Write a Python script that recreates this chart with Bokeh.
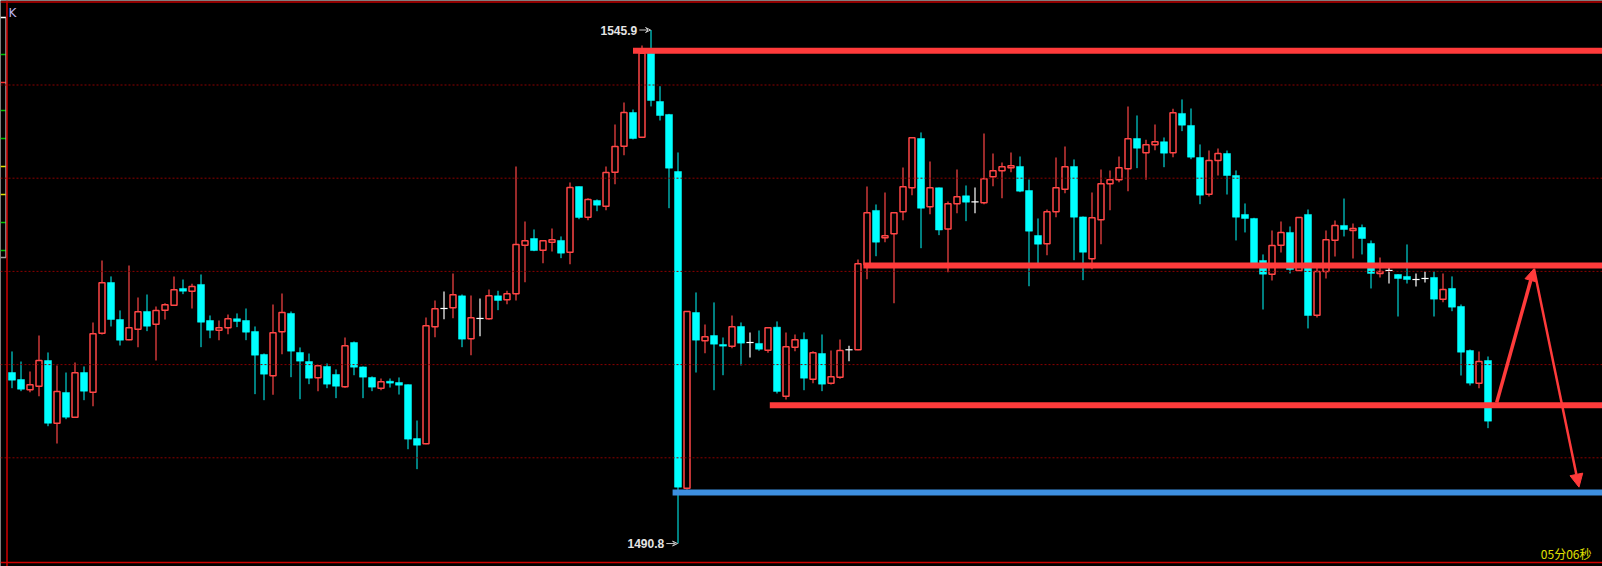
from bokeh.plotting import figure
from bokeh.models import ColumnDataSource, Arrow, VeeHead, NormalHead, Label, Range1d, Span
from bokeh.embed import file_html
from bokeh.resources import INLINE

opens = [
    1509.15, 1508.40, 1507.30, 1507.68, 1510.44, 1503.71, 1507.01, 1504.36, 1509.15, 1507.04,
    1513.37, 1518.81, 1514.84, 1512.66, 1513.80, 1515.70, 1514.34, 1515.84, 1516.38, 1518.17,
    1517.88, 1518.60, 1514.73, 1513.69, 1513.95, 1514.92, 1514.73, 1513.55, 1511.09, 1508.80,
    1513.52, 1515.49, 1511.30, 1510.33, 1508.59, 1509.80, 1508.94, 1507.62, 1512.37, 1509.75,
    1508.62, 1507.47, 1508.22, 1508.08, 1507.85, 1502.07, 1501.50, 1514.06, 1516.02, 1516.10,
    1517.38, 1512.77, 1514.95, 1514.92, 1517.38, 1516.96, 1517.60, 1522.81, 1523.53, 1522.28,
    1523.14, 1523.32, 1522.06, 1529.10, 1525.82, 1527.61, 1527.00, 1530.65, 1533.44, 1537.05,
    1534.40, 1543.42, 1538.23, 1536.84, 1530.72, 1496.74, 1515.59, 1512.56, 1513.12, 1512.16,
    1511.98, 1514.09, 1512.37, 1512.27, 1511.55, 1514.02, 1506.61, 1511.87, 1512.70, 1508.44,
    1511.19, 1508.01, 1508.65, 1511.59, 1511.59, 1520.71, 1526.54, 1523.61, 1524.04, 1526.40,
    1528.97, 1534.26, 1526.93, 1528.97, 1524.55, 1527.26, 1528.11, 1527.47, 1527.36, 1530.15,
    1530.80, 1531.12, 1531.26, 1528.68, 1523.85, 1522.96, 1526.40, 1528.82, 1531.26, 1525.85,
    1521.35, 1525.54, 1529.40, 1529.83, 1531.01, 1534.26, 1532.73, 1533.59, 1533.91, 1532.73,
    1536.95, 1535.66, 1532.22, 1528.29, 1531.90, 1532.65, 1530.29, 1526.11, 1525.68, 1521.17,
    1519.70, 1522.81, 1524.18, 1520.10, 1526.11, 1515.30, 1519.99, 1523.35, 1524.93, 1524.39,
    1524.71, 1523.00, 1519.78, 1520.10, 1519.67, 1519.46, 1519.13, 1519.24, 1519.35, 1517.02,
    1518.17, 1516.24, 1511.51, 1508.01, 1510.44,
]
highs = [
    1511.41, 1510.33, 1509.26, 1513.12, 1511.30, 1509.91, 1509.15, 1510.23, 1509.80, 1514.52,
    1521.17, 1519.46, 1515.81, 1520.64, 1517.20, 1517.52, 1516.24, 1516.59, 1519.46, 1519.13,
    1518.67, 1519.67, 1515.27, 1514.73, 1515.38, 1515.49, 1516.02, 1514.09, 1511.19, 1516.45,
    1517.63, 1515.70, 1511.84, 1511.19, 1509.91, 1510.12, 1509.48, 1512.91, 1512.48, 1509.80,
    1508.73, 1508.51, 1508.51, 1508.62, 1507.87, 1504.00, 1515.06, 1516.88, 1517.85, 1519.78,
    1517.52, 1517.42, 1517.09, 1518.06, 1517.92, 1517.92, 1531.26, 1525.36, 1524.50, 1523.29,
    1524.61, 1523.75, 1529.54, 1529.11, 1527.86, 1527.72, 1531.26, 1535.76, 1538.13, 1537.37,
    1544.24, 1545.90, 1539.87, 1536.90, 1532.76, 1515.70, 1517.74, 1514.30, 1516.67, 1512.91,
    1515.27, 1514.52, 1513.45, 1513.66, 1513.95, 1514.63, 1513.45, 1513.23, 1513.45, 1511.44,
    1513.23, 1511.51, 1512.70, 1512.02, 1521.28, 1529.11, 1527.18, 1528.47, 1526.29, 1531.15,
    1534.34, 1534.91, 1531.79, 1529.00, 1527.50, 1530.94, 1529.22, 1529.00, 1534.80, 1532.65,
    1531.69, 1532.76, 1532.33, 1529.86, 1525.68, 1526.64, 1532.22, 1533.40, 1532.01, 1525.89,
    1528.47, 1530.94, 1530.83, 1532.33, 1537.70, 1536.73, 1534.12, 1535.76, 1534.37, 1537.45,
    1538.45, 1537.48, 1533.62, 1532.97, 1533.19, 1532.97, 1530.83, 1527.29, 1525.75, 1521.82,
    1524.39, 1525.36, 1524.82, 1525.79, 1526.64, 1520.74, 1524.39, 1525.46, 1527.82, 1525.14,
    1525.03, 1523.32, 1521.49, 1520.45, 1519.70, 1522.89, 1519.78, 1519.99, 1519.99, 1519.78,
    1519.46, 1516.45, 1511.62, 1511.41, 1510.87,
]
lows = [
    1507.47, 1507.15, 1507.04, 1506.61, 1503.39, 1501.54, 1504.14, 1504.30, 1506.18, 1505.54,
    1513.23, 1514.09, 1512.05, 1512.62, 1511.87, 1513.59, 1510.44, 1514.84, 1516.34, 1517.56,
    1516.02, 1511.87, 1512.83, 1512.62, 1513.26, 1514.02, 1512.62, 1506.83, 1506.18, 1506.76,
    1511.12, 1508.65, 1506.29, 1507.90, 1507.15, 1507.47, 1506.40, 1507.51, 1508.86, 1506.40,
    1507.15, 1507.25, 1507.54, 1506.79, 1500.92, 1498.78, 1501.45, 1512.94, 1514.87, 1514.98,
    1511.87, 1511.01, 1513.05, 1514.81, 1515.84, 1516.48, 1516.88, 1518.84, 1522.17, 1520.88,
    1522.14, 1521.42, 1520.77, 1525.60, 1525.50, 1526.46, 1526.57, 1529.36, 1532.47, 1534.16,
    1534.35, 1537.70, 1536.19, 1526.78, 1490.80, 1496.57, 1509.15, 1511.23, 1507.25, 1508.86,
    1511.76, 1509.91, 1510.76, 1511.48, 1511.27, 1506.90, 1506.26, 1511.44, 1507.25, 1508.01,
    1507.15, 1507.87, 1508.48, 1510.37, 1511.55, 1519.17, 1521.63, 1523.14, 1516.59, 1525.50,
    1528.18, 1522.49, 1526.14, 1523.89, 1519.92, 1526.25, 1525.39, 1526.25, 1527.21, 1529.14,
    1527.86, 1530.65, 1528.50, 1518.41, 1520.82, 1521.74, 1525.82, 1528.39, 1521.20, 1519.06,
    1520.24, 1522.92, 1526.57, 1529.57, 1528.61, 1531.08, 1529.83, 1533.01, 1531.18, 1532.26,
    1535.05, 1532.04, 1527.21, 1528.04, 1530.29, 1528.25, 1523.32, 1524.18, 1520.85, 1515.91,
    1519.03, 1522.03, 1519.78, 1520.05, 1513.88, 1515.06, 1519.24, 1521.60, 1523.75, 1521.39,
    1521.82, 1518.17, 1519.35, 1518.70, 1515.16, 1518.70, 1518.38, 1518.81, 1515.16, 1516.70,
    1515.73, 1508.83, 1507.76, 1507.47, 1503.18,
]
closes = [
    1508.33, 1507.36, 1507.83, 1510.44, 1503.71, 1507.12, 1504.36, 1509.12, 1507.15, 1513.31,
    1518.78, 1514.84, 1512.62, 1513.95, 1515.67, 1514.12, 1515.81, 1516.42, 1518.03, 1517.88,
    1518.38, 1514.55, 1513.69, 1513.95, 1514.92, 1514.63, 1513.48, 1511.01, 1508.97, 1513.41,
    1515.59, 1511.44, 1510.37, 1508.54, 1509.87, 1507.90, 1507.68, 1512.02, 1509.72, 1508.65,
    1507.58, 1508.16, 1508.01, 1507.79, 1502.00, 1501.35, 1514.17, 1515.99, 1516.02, 1517.49,
    1512.73, 1515.02, 1514.95, 1517.38, 1516.88, 1517.60, 1522.89, 1523.29, 1522.24, 1523.29,
    1523.39, 1521.96, 1529.00, 1525.79, 1527.72, 1527.11, 1530.61, 1533.40, 1537.05, 1534.26,
    1543.42, 1538.34, 1536.73, 1531.08, 1496.85, 1515.70, 1512.62, 1512.98, 1512.19, 1511.98,
    1514.06, 1512.30, 1512.37, 1511.65, 1513.95, 1507.12, 1511.91, 1512.66, 1508.54, 1511.27,
    1507.90, 1508.69, 1511.51, 1511.59, 1520.82, 1526.29, 1523.14, 1523.82, 1526.29, 1529.08,
    1534.34, 1526.78, 1528.97, 1524.44, 1527.26, 1528.01, 1527.43, 1527.47, 1529.94, 1530.80,
    1531.23, 1531.33, 1528.61, 1524.32, 1522.92, 1526.40, 1528.97, 1531.23, 1525.82, 1522.06,
    1525.75, 1529.40, 1529.83, 1531.12, 1534.23, 1533.22, 1533.59, 1533.91, 1532.69, 1537.02,
    1535.69, 1532.26, 1528.18, 1531.90, 1532.65, 1530.29, 1525.82, 1525.68, 1520.70, 1519.70,
    1522.78, 1524.18, 1520.21, 1525.79, 1515.27, 1519.99, 1523.39, 1524.93, 1524.50, 1524.61,
    1523.53, 1519.78, 1519.99, 1520.10, 1519.24, 1519.13, 1519.13, 1519.24, 1517.02, 1518.06,
    1516.16, 1511.33, 1508.01, 1510.33, 1503.93,
]

# annotation levels (price) and the bar index where each starts
red_levels = [1543.67, 1520.63, 1505.63]
red_level_starts = [69.0, 94.6, 84.2]
blue_level = [1496.28]
blue_level_starts = [73.4]
# forecast arrow path (bar index, price)
path_x = [164.97, 169.11, 174.11]
path_y = [1505.94, 1520.28, 1496.85]
grid_levels = [1500, 1510, 1520, 1530, 1540]
high_idx, high_text = 71, "1545.9"
low_idx, low_text = 74, "1490.8"
timer_text = "05分06秒"
chart_label = "K"
# small colour marks of the left indicator strip
strip_marks = [1547.24, 1543.27, 1540.27, 1537.26, 1534.26, 1531.26, 1528.25, 1525.25, 1522.25]
strip_colors = ["#ffffff", "#00c000", "#ff3030", "#00c000", "#00c000",
                "#e0e000", "#e0e000", "#00c000", "#00c000"]

RED = "#ff3b3b"
CANDLE_RED = "#ff4646"
CYAN = "#00ffff"
W, H = 1602, 566
BAR_PX = 9.0
PX_PER_UNIT = 9.32
X0_PX = 11.5            # centre of the first bar
Y_REF_PX, Y_REF = 84.5, 1540.0

x_lo = -X0_PX / BAR_PX
x_hi = (W - X0_PX) / BAR_PX
y_hi = Y_REF + Y_REF_PX / PX_PER_UNIT
y_lo = Y_REF - (H - Y_REF_PX) / PX_PER_UNIT

n = len(opens)
idx = list(range(n))

p = figure(width=W, height=H, output_backend="svg", toolbar_location=None,
           x_range=Range1d(x_lo, x_hi), y_range=Range1d(y_lo, y_hi),
           x_axis_location=None, y_axis_location=None,
           background_fill_color="#000000", border_fill_color="#000000",
           outline_line_color=None, min_border=0, min_border_left=0,
           min_border_right=0, min_border_top=0, min_border_bottom=0)
p.xgrid.visible = False
p.ygrid.visible = False

for g in grid_levels:
    p.add_layout(Span(location=g, dimension="width", line_color="#8a0000",
                      line_dash="2 2", line_width=1))

# frame of the chart window
p.add_layout(Span(location=x_lo + 6.5 / BAR_PX, dimension="height", line_color="#d00000", line_width=1.5))
p.add_layout(Span(location=y_hi - 1.5 / PX_PER_UNIT, dimension="width", line_color="#c00000", line_width=1.5))
p.add_layout(Span(location=y_lo + 4.0 / PX_PER_UNIT, dimension="width", line_color="#d00000", line_width=1.5))

# left indicator strip
sx_l, sx_r = x_lo, x_lo + 5.5 / BAR_PX
p.segment(x0=[sx_l] * len(strip_marks), y0=strip_marks, x1=[sx_r] * len(strip_marks), y1=strip_marks,
          line_color=strip_colors, line_width=1.5)
p.segment(x0=[sx_r, sx_l], y0=[strip_marks[0], strip_marks[-1] - 0.75],
          x1=[sx_r, sx_r], y1=[strip_marks[-1] - 0.75, strip_marks[-1] - 0.75],
          line_color="#a0a0a0", line_width=1.5)

up = [i for i in idx if closes[i] > opens[i]]
dn = [i for i in idx if closes[i] < opens[i]]
dj = [i for i in idx if closes[i] == opens[i]]

def col(ids, arr):
    return [arr[i] for i in ids]

up_src = ColumnDataSource(dict(x=up, o=col(up, opens), h=col(up, highs), l=col(up, lows), c=col(up, closes)))
dn_src = ColumnDataSource(dict(x=dn, o=col(dn, opens), h=col(dn, highs), l=col(dn, lows), c=col(dn, closes)))
dj_src = ColumnDataSource(dict(x=dj, xl=[i - 0.4 for i in dj], xr=[i + 0.4 for i in dj],
                               o=col(dj, opens), h=col(dj, highs), l=col(dj, lows), c=col(dj, closes)))

p.segment(x0="x", y0="l", x1="x", y1="h", source=up_src, line_color=CANDLE_RED, line_width=1.2)
p.segment(x0="x", y0="l", x1="x", y1="h", source=dn_src, line_color=CYAN, line_width=1)
p.segment(x0="x", y0="l", x1="x", y1="h", source=dj_src, line_color="#ffffff", line_width=1.2)
p.segment(x0="xl", y0="c", x1="xr", y1="c", source=dj_src, line_color="#ffffff", line_width=1.2)

p.vbar(x="x", width=6.0 / BAR_PX, top="c", bottom="o", source=up_src,
       fill_color="#000000", line_color=CANDLE_RED, line_width=1.5)
p.vbar(x="x", width=7.0 / BAR_PX, top="o", bottom="c", source=dn_src,
       fill_color=CYAN, line_color=CYAN, line_width=0.5)

# horizontal levels
p.segment(x0=red_level_starts, y0=red_levels, x1=[200] * len(red_levels), y1=red_levels,
          line_color=RED, line_width=6)
p.segment(x0=blue_level_starts, y0=blue_level, x1=[200], y1=blue_level,
          line_color="#3d8fe0", line_width=6)

# forecast arrows
p.add_layout(Arrow(end=NormalHead(size=12, fill_color=RED, line_color=RED),
                   x_start=path_x[0], y_start=path_y[0], x_end=path_x[1], y_end=path_y[1],
                   line_color=RED, line_width=3.5))
p.add_layout(Arrow(end=NormalHead(size=13, fill_color=RED, line_color=RED),
                   x_start=path_x[1], y_start=path_y[1], x_end=path_x[2], y_end=path_y[2],
                   line_color=RED, line_width=2.5))

# high / low labels
LBL = "#e4e4e4"
for k, txt, price in [(high_idx, high_text, highs[high_idx]), (low_idx, low_text, lows[low_idx])]:
    p.add_layout(Label(x=k - 1.53, y=price, text=txt, text_align="right", text_baseline="middle",
                       text_font="Liberation Sans", text_font_style="bold",
                       text_font_size="12px", text_color=LBL))
    p.add_layout(Arrow(end=VeeHead(size=5, line_color="#c8c8c8", line_width=1, fill_color=None),
                       x_start=k - 1.3, y_start=price, x_end=k - 0.05, y_end=price,
                       line_color="#c8c8c8", line_width=1))

p.add_layout(Label(x=8, y=H - 5, x_units="screen", y_units="screen", text=chart_label,
                   text_align="left", text_baseline="top", text_font="DejaVu Sans",
                   text_font_size="12px", text_color="#bdb6f2"))
p.add_layout(Label(x=1591, y=H - 552.5, x_units="screen", y_units="screen", text=timer_text,
                   text_align="right", text_baseline="middle", text_font="Noto Sans CJK SC",
                   text_font_size="12px", text_color="#e0e000"))

html = file_html(p, INLINE)
html = html.replace("<body>", '<body style="background:#000000;">', 1)
open("out.html", "w").write(html)
